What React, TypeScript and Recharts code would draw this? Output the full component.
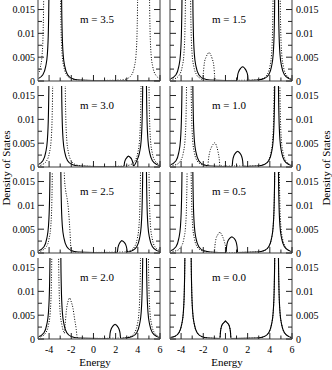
import { LineChart, Line, XAxis, YAxis } from "recharts";

type Pt = [number, number];

const energyTicks = [-4, -3, -2, -1, 0, 1, 2, 3, 4, 5, 6];
const dosTicks = [0, 0.0025, 0.005, 0.0075, 0.01, 0.0125, 0.015];

// lower band of the solid curve (wide version for m = 3.5, 3.0)
const solidLowWide: Pt[] = [
  [-5, 0.0005], [-4.56, 0.0013], [-4.31, 0.003], [-4.16, 0.0055], [-4.06, 0.011], [-4.01, 0.02], [-3.96, 0.05],
  [-2.93, 0.05], [-2.88, 0.02], [-2.83, 0.011], [-2.73, 0.0055], [-2.58, 0.003], [-2.33, 0.0013], [-1.93, 0.0005], [-1.33, 0.0002],
];
const solidLow: Pt[] = [
  [-5, 0.0004], [-4.46, 0.0013], [-4.21, 0.003], [-4.06, 0.0055], [-3.96, 0.011], [-3.91, 0.02], [-3.86, 0.05],
  [-3.0, 0.05], [-2.95, 0.02], [-2.9, 0.011], [-2.8, 0.0055], [-2.65, 0.003], [-2.4, 0.0013], [-2.0, 0.0005], [-1.4, 0.0002],
];
const solidLowZero: Pt[] = [
  [-5, 0.0003], [-4.6, 0.0005], [-4.2, 0.0013], [-3.95, 0.003], [-3.8, 0.0055], [-3.7, 0.011], [-3.65, 0.02], [-3.6, 0.05],
  [-3.15, 0.05], [-3.1, 0.02], [-3.05, 0.011], [-2.95, 0.0055], [-2.8, 0.003], [-2.55, 0.0013], [-2.15, 0.0005], [-1.55, 0.0002],
];
const solidHigh: Pt[] = [
  [3.5, 0.0005], [3.9, 0.0013], [4.15, 0.003], [4.3, 0.0055], [4.4, 0.011], [4.45, 0.02], [4.5, 0.05],
  [4.72, 0.05], [4.77, 0.02], [4.82, 0.011], [4.92, 0.0055], [5.07, 0.003], [5.32, 0.0013], [5.72, 0.0005], [6, 0.0003],
];

// small solid bump near E = m
const bump30: Pt[] = [[2.75, 0.0001], [2.8, 0.0009], [2.9, 0.0016], [3.02, 0.002], [3.1, 0.0022], [3.15, 0.0023], [3.22, 0.0022], [3.32, 0.002], [3.45, 0.0016], [3.55, 0.0009], [3.6, 0.0002]];
const bump25: Pt[] = [[2.15, 0.0001], [2.2, 0.001], [2.3, 0.0018], [2.42, 0.0023], [2.5, 0.0025], [2.56, 0.0026], [2.63, 0.0025], [2.75, 0.0023], [2.9, 0.0018], [3.0, 0.001], [3.05, 0.0002]];
const bump20: Pt[] = [[1.45, 0.0001], [1.5, 0.0012], [1.6, 0.0021], [1.75, 0.0027], [1.88, 0.003], [1.95, 0.0031], [2.02, 0.003], [2.15, 0.0027], [2.3, 0.0021], [2.4, 0.0012], [2.45, 0.0001]];
const bump15: Pt[] = [[1.05, 0.0001], [1.1, 0.0012], [1.2, 0.002], [1.35, 0.0026], [1.48, 0.0029], [1.55, 0.003], [1.62, 0.0029], [1.75, 0.0026], [1.9, 0.002], [2.0, 0.0012], [2.05, 0.0001]];
const bump10: Pt[] = [[0.6, 0.0001], [0.65, 0.0013], [0.75, 0.0023], [0.9, 0.0029], [1.03, 0.0032], [1.1, 0.0033], [1.17, 0.0032], [1.3, 0.0029], [1.45, 0.0023], [1.55, 0.0013], [1.6, 0.0001]];
const bump05: Pt[] = [[0.05, 0.0001], [0.1, 0.0013], [0.2, 0.0024], [0.36, 0.003], [0.5, 0.0033], [0.58, 0.0034], [0.65, 0.0033], [0.8, 0.003], [0.95, 0.0024], [1.05, 0.0013], [1.1, 0.0001]];
const bump00: Pt[] = [[-0.5, 0.0001], [-0.45, 0.0015], [-0.35, 0.0027], [-0.2, 0.0033], [-0.07, 0.0036], [0, 0.0038], [0.07, 0.0036], [0.2, 0.0033], [0.35, 0.0027], [0.45, 0.0015], [0.5, 0.0001]];

const solid35: Pt[] = [...solidLowWide, [0, 0.0001], [6, 0.0001]];
const solid30: Pt[] = [...solidLowWide, [0, 0.0001], ...bump30, ...solidHigh.slice(1)];
const solid25: Pt[] = [...solidLow, [0, 0.0001], ...bump25, ...solidHigh];
const solid20: Pt[] = [...solidLow, [0.5, 0.0001], ...bump20, [2.9, 0.0002], ...solidHigh];
const solid15: Pt[] = [...solidLow, [0, 0.0001], ...bump15, [2.9, 0.0002], ...solidHigh];
const solid10: Pt[] = [...solidLow, [-0.2, 0.0001], ...bump10, [2.9, 0.0002], ...solidHigh];
const solid05: Pt[] = [...solidLow, [-0.6, 0.0001], ...bump05, [2.9, 0.0002], ...solidHigh];
const solid00: Pt[] = [...solidLowZero, ...bump00, [2.9, 0.0002], ...solidHigh];

const dotted35: Pt[] = [
  [-5, 0.0014], [-4.78, 0.003], [-4.63, 0.0055], [-4.53, 0.011], [-4.48, 0.02], [-4.43, 0.05],
  [-3.02, 0.05], [-2.97, 0.02], [-2.92, 0.011], [-2.82, 0.0055], [-2.67, 0.003], [-2.42, 0.0013], [-2.02, 0.0005], [-1.42, 0.0002],
  [0, 0.0001], [2.44, 0.0002], [3.04, 0.0005], [3.44, 0.0013], [3.69, 0.003], [3.84, 0.0055], [3.94, 0.011], [3.99, 0.02], [4.04, 0.05],
  [5.0, 0.05], [5.05, 0.02], [5.1, 0.011], [5.2, 0.0055], [5.35, 0.003], [5.6, 0.0013], [6, 0.0005],
];
const dotted30: Pt[] = [
  [-5, 0.0002], [-4.62, 0.0005], [-4.22, 0.0013], [-3.97, 0.003], [-3.82, 0.0055], [-3.72, 0.011], [-3.67, 0.02], [-3.62, 0.05],
  [-2.6, 0.05], [-2.55, 0.02], [-2.5, 0.011], [-2.4, 0.0055], [-2.25, 0.003], [-2.0, 0.0013], [-1.6, 0.0005], [-1.0, 0.0002],
  [1, 0.0001], [2.75, 0.0002], [3.35, 0.0005], [3.75, 0.0013], [4.0, 0.003], [4.15, 0.0055], [4.25, 0.011], [4.3, 0.02], [4.35, 0.05],
  [4.95, 0.05], [5.0, 0.02], [5.05, 0.011], [5.15, 0.0055], [5.3, 0.003], [5.55, 0.0013], [6, 0.0005],
];
const dotted25: Pt[] = [
  [-5, 0.0002], [-4.65, 0.0005], [-4.25, 0.0013], [-4.0, 0.003], [-3.85, 0.0055], [-3.75, 0.011], [-3.7, 0.02], [-3.65, 0.05],
  [-2.72, 0.05], [-2.62, 0.016], [-2.5, 0.013], [-2.38, 0.0115], [-2.27, 0.0095], [-2.17, 0.0065], [-2.1, 0.0038], [-2.04, 0.0012], [-1.97, 0.0003],
  [-1.5, 0.0001], [2.7, 0.0002], [3.3, 0.0005], [3.7, 0.0013], [3.95, 0.003], [4.1, 0.0055], [4.2, 0.011], [4.25, 0.02], [4.3, 0.05],
  [4.95, 0.05], [5.0, 0.02], [5.05, 0.011], [5.15, 0.0055], [5.3, 0.003], [5.55, 0.0013], [6, 0.0005],
];
const dotted20: Pt[] = [
  [-5, 0.0003], [-4.7, 0.0005], [-4.3, 0.0013], [-4.05, 0.003], [-3.9, 0.0055], [-3.8, 0.011], [-3.75, 0.02], [-3.7, 0.05],
  [-3.2, 0.05], [-3.15, 0.02], [-3.1, 0.011], [-3.0, 0.0055], [-2.85, 0.003], [-2.7, 0.0016], [-2.62, 0.0012],
  [-2.55, 0.003], [-2.45, 0.0058], [-2.3, 0.0078], [-2.15, 0.0086], [-2.0, 0.0078], [-1.85, 0.0065], [-1.7, 0.0042], [-1.55, 0.002], [-1.48, 0.0005], [-1.4, 0.0001],
  [2.7, 0.0002], [3.3, 0.0005], [3.7, 0.0013], [3.95, 0.003], [4.1, 0.0055], [4.2, 0.011], [4.25, 0.02], [4.3, 0.05],
  [4.9, 0.05], [4.95, 0.02], [5.0, 0.011], [5.1, 0.0055], [5.25, 0.003], [5.5, 0.0013], [5.9, 0.0005], [6, 0.0004],
];
const dotted15: Pt[] = [
  [-5, 0.0003], [-4.55, 0.0005], [-4.15, 0.0013], [-3.9, 0.003], [-3.75, 0.0055], [-3.65, 0.011], [-3.6, 0.02], [-3.55, 0.05],
  [-3.2, 0.05], [-3.15, 0.02], [-3.1, 0.011], [-3.0, 0.0055], [-2.85, 0.003], [-2.6, 0.0013], [-2.3, 0.0006], [-2.05, 0.0003],
  [-2.0, 0.0015], [-1.9, 0.0038], [-1.75, 0.005], [-1.6, 0.0057], [-1.47, 0.006], [-1.35, 0.0056], [-1.2, 0.0047], [-1.05, 0.0032], [-0.97, 0.001], [-0.92, 0.0001],
  [2.75, 0.0002], [3.35, 0.0005], [3.75, 0.0013], [4.0, 0.003], [4.15, 0.0055], [4.25, 0.011], [4.3, 0.02], [4.35, 0.05],
  [4.88, 0.05], [4.93, 0.02], [4.98, 0.011], [5.08, 0.0055], [5.23, 0.003], [5.48, 0.0013], [5.88, 0.0005], [6, 0.0004],
];
const dotted10: Pt[] = [
  [-5, 0.0003], [-4.45, 0.0005], [-4.05, 0.0013], [-3.8, 0.003], [-3.65, 0.0055], [-3.55, 0.011], [-3.5, 0.02], [-3.45, 0.05],
  [-3.15, 0.05], [-3.1, 0.02], [-3.05, 0.011], [-2.95, 0.0055], [-2.8, 0.003], [-2.55, 0.0013], [-2.15, 0.0005], [-1.6, 0.0002],
  [-1.52, 0.0018], [-1.4, 0.0033], [-1.25, 0.0042], [-1.1, 0.0048], [-0.95, 0.0051], [-0.82, 0.0045], [-0.68, 0.0033], [-0.55, 0.0015], [-0.5, 0.0002],
  [2.85, 0.0002], [3.45, 0.0005], [3.85, 0.0013], [4.1, 0.003], [4.25, 0.0055], [4.35, 0.011], [4.4, 0.02], [4.45, 0.05],
  [4.85, 0.05], [4.9, 0.02], [4.95, 0.011], [5.05, 0.0055], [5.2, 0.003], [5.45, 0.0013], [5.85, 0.0005], [6, 0.0004],
];
const dotted05: Pt[] = [
  [-5, 0.0003], [-4.4, 0.0005], [-4.0, 0.0013], [-3.75, 0.003], [-3.6, 0.0055], [-3.5, 0.011], [-3.45, 0.02], [-3.4, 0.05],
  [-3.15, 0.05], [-3.1, 0.02], [-3.05, 0.011], [-2.95, 0.0055], [-2.8, 0.003], [-2.55, 0.0013], [-2.15, 0.0005], [-1.55, 0.0002],
  [-1.0, 0.0001], [-0.95, 0.0015], [-0.85, 0.003], [-0.7, 0.0038], [-0.58, 0.0042], [-0.5, 0.0044], [-0.4, 0.0041], [-0.25, 0.0034], [-0.1, 0.0024], [0.02, 0.0012], [0.08, 0.0001],
  [2.9, 0.0002], [3.5, 0.0005], [3.9, 0.0013], [4.15, 0.003], [4.3, 0.0055], [4.4, 0.011], [4.45, 0.02], [4.5, 0.05],
  [4.8, 0.05], [4.85, 0.02], [4.9, 0.011], [5.0, 0.0055], [5.15, 0.003], [5.4, 0.0013], [5.8, 0.0005], [6, 0.0004],
];
const dotted00: Pt[] = solid00;

const panels = [
  { label: "m = 3.5", col: 0, row: 0, solid: solid35, dotted: dotted35 },
  { label: "m = 1.5", col: 1, row: 0, solid: solid15, dotted: dotted15 },
  { label: "m = 3.0", col: 0, row: 1, solid: solid30, dotted: dotted30 },
  { label: "m = 1.0", col: 1, row: 1, solid: solid10, dotted: dotted10 },
  { label: "m = 2.5", col: 0, row: 2, solid: solid25, dotted: dotted25 },
  { label: "m = 0.5", col: 1, row: 2, solid: solid05, dotted: dotted05 },
  { label: "m = 2.0", col: 0, row: 3, solid: solid20, dotted: dotted20 },
  { label: "m = 0.0", col: 1, row: 3, solid: solid00, dotted: dotted00 },
];

const FONT = "'Liberation Serif', 'DejaVu Serif', serif";
const W = 122;
const H = 81;
const PAD = 40;
const TOP = 6;
const COL_LEFT = [38, 170];
const ROW_TOP = [0, 86, 172, 258];
const frame = { stroke: "#7d7d7d", strokeWidth: 1.5 };

const xTick = (side: "top" | "bottom", showLabel: boolean) => (p: any) => {
  const v = p.payload.value;
  const major = v % 2 === 0;
  const len = major ? 6 : 3.5;
  const dir = side === "bottom" ? -1 : 1;
  return (
    <g>
      <line x1={p.x} x2={p.x} y1={p.y} y2={p.y + dir * len} stroke="#222" />
      {showLabel && major && (
        <text x={p.x} y={p.y + 14} textAnchor="middle" fontSize={10} fontFamily={FONT} fill="#000">
          {String(v)}
        </text>
      )}
    </g>
  );
};

const yTick = (side: "left" | "right", showLabel: boolean) => (p: any) => {
  const v = p.payload.value;
  const major = Math.round(v * 10000) % 50 === 0;
  const len = major ? 6 : 4;
  const dir = side === "left" ? 1 : -1;
  return (
    <g>
      <line x1={p.x} x2={p.x + dir * len} y1={p.y} y2={p.y} stroke="#222" />
      {showLabel && major && (
        <text
          x={side === "left" ? p.x - 3 : p.x + 4}
          y={p.y + 3.5}
          textAnchor={side === "left" ? "end" : "start"}
          fontSize={10}
          fontFamily={FONT}
          fill="#000"
        >
          {String(v)}
        </text>
      )}
    </g>
  );
};

function Panel({ label, col, row, solid, dotted }: { label: string; col: number; row: number; solid: Pt[]; dotted: Pt[] }) {
  const left = col === 0;
  const last = row === 3;
  const sData = solid.map(([x, y]) => ({ x, y }));
  const dData = dotted.map(([x, y]) => ({ x, y }));
  const common = { tickSize: 0, tickMargin: 0, tickLine: false, axisLine: frame, interval: 0 as const, allowDataOverflow: true };
  return (
    <>
      <div style={{ position: "absolute", left: COL_LEFT[col] - PAD, top: ROW_TOP[row] - TOP }}>
        <LineChart width={W + 2 * PAD} height={H + TOP + 20} margin={{ top: TOP, right: 0, bottom: 0, left: 0 }}>
          <XAxis xAxisId="b" dataKey="x" type="number" domain={[-5, 6]} ticks={energyTicks} orientation="bottom" height={20} tick={xTick("bottom", last)} {...common} />
          <XAxis xAxisId="t" dataKey="x" type="number" domain={[-5, 6]} ticks={energyTicks} orientation="top" height={0} tick={xTick("top", false)} {...common} />
          <YAxis yAxisId="l" type="number" domain={[0, 0.017]} ticks={dosTicks} orientation="left" width={PAD} tick={yTick("left", left)} {...common} />
          <YAxis yAxisId="r" type="number" domain={[0, 0.017]} ticks={dosTicks} orientation="right" width={PAD} tick={yTick("right", !left)} {...common} />
          <Line xAxisId="b" yAxisId="l" data={dData} dataKey="y" type="monotone" dot={false} stroke="#000" strokeWidth={1} strokeDasharray="1 1.6" isAnimationActive={false} />
          <Line xAxisId="b" yAxisId="l" data={sData} dataKey="y" type="monotone" dot={false} stroke="#000" strokeWidth={1.1} isAnimationActive={false} />
        </LineChart>
      </div>
      <div
        style={{
          position: "absolute",
          left: COL_LEFT[col],
          top: ROW_TOP[row] + 13,
          width: 118,
          textAlign: "center",
          fontFamily: FONT,
          fontSize: 11,
          lineHeight: "12px",
        }}
      >
        {label}
      </div>
    </>
  );
}

const rotated = (cx: number, cy: number) => ({
  position: "absolute" as const,
  left: cx,
  top: cy,
  transform: "translate(-50%, -50%) rotate(-90deg)",
  whiteSpace: "nowrap" as const,
  fontFamily: FONT,
  fontSize: 11,
  lineHeight: "12px",
});

export default function App() {
  return (
    <div style={{ position: "absolute", left: 0, top: 0, width: 332, height: 370, background: "#fff", overflow: "hidden" }}>
      {panels.map((p) => (
        <Panel key={p.label} {...p} />
      ))}
      {[95, 227].map((cx) => (
        <div key={cx} style={{ position: "absolute", left: cx - 30, top: 356, width: 60, textAlign: "center", fontFamily: FONT, fontSize: 11, lineHeight: "12px" }}>
          Energy
        </div>
      ))}
      <div style={rotated(6, 168)}>Density of States</div>
      <div style={rotated(326, 168)}>Density of States</div>
    </div>
  );
}
